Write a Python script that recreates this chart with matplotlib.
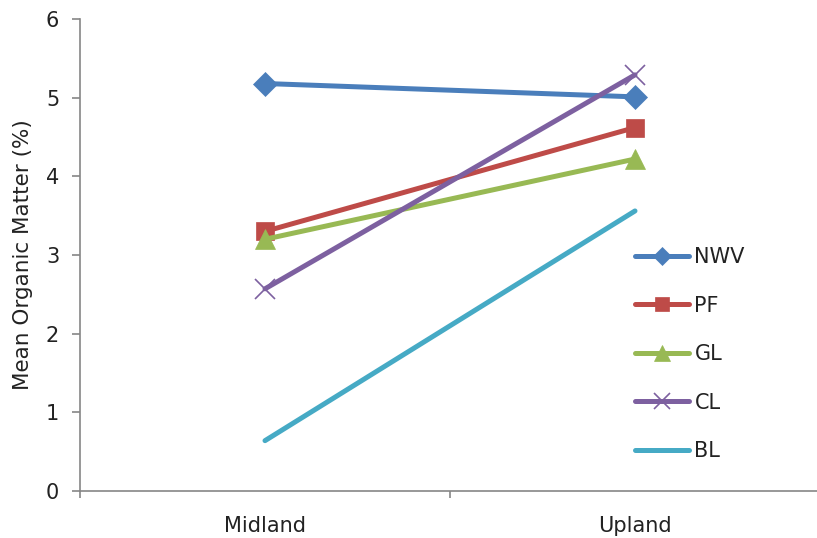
import matplotlib
matplotlib.use("Agg")
import matplotlib.pyplot as plt

categories = ["Midland", "Upland"]
series_names = ["NWV", "PF", "GL", "CL", "BL"]
nwv = [5.18, 5.01]
pf = [3.30, 4.62]
gl = [3.20, 4.22]
cl = [2.57, 5.29]
bl = [0.64, 3.56]
y_ticks = [0, 1, 2, 3, 4, 5, 6]

values = [nwv, pf, gl, cl, bl]
colors = ["#4A7EBB", "#BE4B48", "#98B954", "#7D60A0", "#46AAC5"]
markers = ["D", "s", "^", "x", None]
msizes = [12, 13, 14, 15, 0]

plt.rcParams["font.family"] = ["DejaVu Sans"]
fig = plt.figure(figsize=(8.17, 5.38), dpi=100)
ax = fig.add_axes([80 / 817, 1 - 491 / 538, 740 / 817, (491 - 19) / 538])

x = list(range(len(categories)))
for name, vals, c, m, ms in zip(series_names, values, colors, markers, msizes):
    kw = dict(color=c, lw=3.6, solid_capstyle="round", label=name)
    if m is not None:
        kw.update(marker=m, markersize=ms, markerfacecolor=c,
                  markeredgecolor=c, markeredgewidth=1.2 if m == "x" else 0.5)
    ax.plot(x, vals, **kw)

ax.set_xlim(-0.5, 1.5)
ax.set_ylim(0, 6)
ax.set_yticks(y_ticks)
ax.set_xticks(x)
ax.set_xticklabels(categories)
ax.set_xticks([-0.5, 0.5, 1.5], minor=True)

axis_gray = "#868686"
for s in ("top", "right"):
    ax.spines[s].set_visible(False)
for s in ("left", "bottom"):
    ax.spines[s].set_color(axis_gray)
    ax.spines[s].set_linewidth(1.2)

ax.tick_params(axis="y", direction="out", length=6, width=1.2, color=axis_gray,
               labelsize=15, pad=9, labelcolor="#222222")
ax.tick_params(axis="x", which="major", length=0, labelsize=15, pad=18,
               labelcolor="#222222")
ax.tick_params(axis="x", which="minor", direction="out", length=5, width=1.2,
               color=axis_gray)

ax.set_ylabel("Mean Organic Matter (%)", fontsize=15.5, color="#222222", labelpad=9)

leg = ax.legend(loc="upper left", bbox_to_anchor=(635 / 817, 1 - 247 / 538),
                bbox_transform=fig.transFigure, frameon=False, fontsize=15,
                numpoints=1, markerscale=0.8, handlelength=2.6,
                handletextpad=0.25, labelspacing=1.37, borderpad=0,
                borderaxespad=0)
for t in leg.get_texts():
    t.set_color("#222222")

fig.savefig("out.png", dpi=100)
